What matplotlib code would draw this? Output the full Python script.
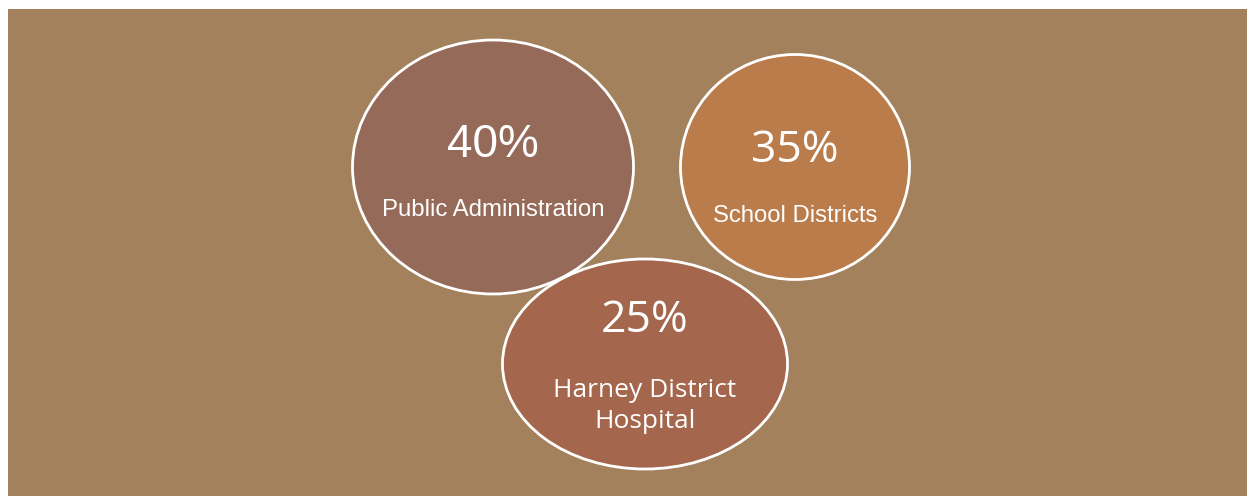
import matplotlib
matplotlib.use("Agg")
import matplotlib.pyplot as plt
from matplotlib.patches import Ellipse, Rectangle

# ---- data ----
percentages = [40, 35, 25]
categories = ["Public Administration", "School Districts", "Harney District\nHospital"]

# ---- layout / style ----
centers = [(493, 167), (795, 167), (645, 364)]
sizes = [(281, 254), (229, 225), (285, 210)]
fills = ["#956a58", "#bb7c4c", "#a4664c"]
pct_baselines = [157, 162, 332]
label_baselines = [216, 222, 397]
line_step = 31

fig = plt.figure(figsize=(12.5, 4.96), dpi=100)
fig.patch.set_facecolor("white")
ax = fig.add_axes([0, 0, 1, 1])
ax.set_xlim(0, 1250)
ax.set_ylim(496, 0)
ax.axis("off")

ax.add_patch(Rectangle((8, 9), 1239, 487, facecolor="#a3815c", edgecolor="none", zorder=0))

pct_fonts = ["Liberation Sans", "Open Sans", "Open Sans"]
pct_sizes = [33, 32, 32]
label_fonts = ["Liberation Sans", "Liberation Sans", "Open Sans"]
label_sizes = [17.3, 17.2, 19]

for i in range(3):
    (cx, cy), (w, h) = centers[i], sizes[i]
    ax.add_patch(Ellipse((cx, cy), w, h, facecolor=fills[i], edgecolor="white",
                         linewidth=2.0, zorder=2 + i))
    ax.text(cx, pct_baselines[i], f"{percentages[i]}%", color="white",
            fontsize=pct_sizes[i], family=pct_fonts[i], ha="center", va="baseline",
            zorder=10)
    for j, line in enumerate(categories[i].split("\n")):
        ax.text(cx, label_baselines[i] + j * line_step, line, color="white",
                fontsize=label_sizes[i], family=label_fonts[i], ha="center",
                va="baseline", zorder=10)

fig.savefig("out.png", dpi=100, facecolor="white")
